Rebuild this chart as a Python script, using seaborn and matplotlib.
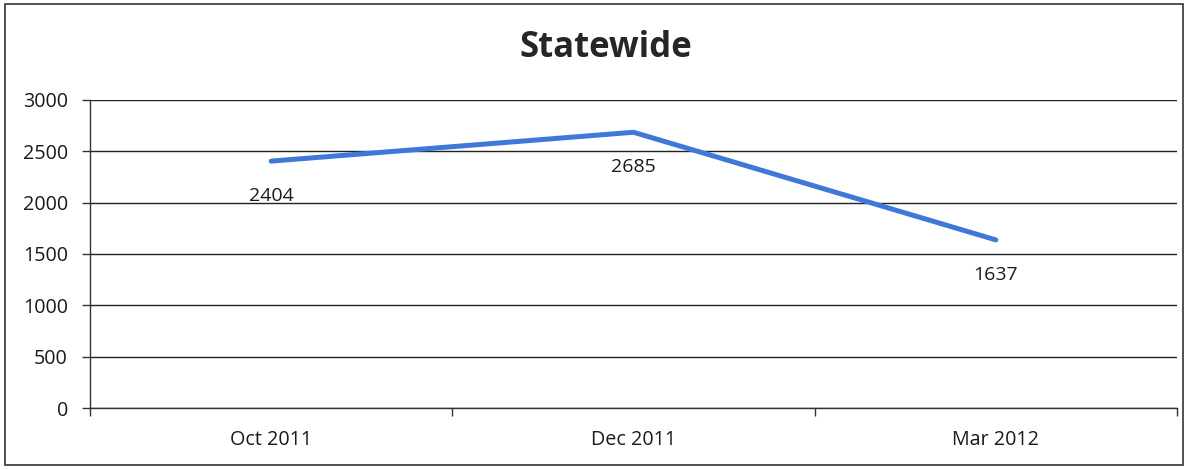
import matplotlib
matplotlib.use("Agg")
import matplotlib.pyplot as plt
import matplotlib.patches as mpatches
import pandas as pd
import seaborn as sns

months = ["Oct 2011", "Dec 2011", "Mar 2012"]
counts = [2404, 2685, 1637]
y_ticks = [0, 500, 1000, 1500, 2000, 2500, 3000]

df = pd.DataFrame({"month": months, "count": counts})

sns.set_theme(style="white")
plt.rcParams["font.family"] = ["Open Sans", "DejaVu Sans"]

fig = plt.figure(figsize=(11.88, 4.69), dpi=100)
ax = fig.add_axes([0.0758, 0.130, 0.9149, 0.657])

sns.lineplot(data=df, x="month", y="count", ax=ax, color="#3f78d8",
             linewidth=3.6, sort=False)

for i, v in enumerate(counts):
    ax.annotate(f"{v}", (i, v), xytext=(0, -25), textcoords="offset points",
                ha="center", va="center", fontsize=14, color="#1a1a1a")

ax.set_ylim(0, 3000)
ax.set_xlim(-0.5, 2.5)
ax.set_yticks(y_ticks)
ax.set_yticklabels([str(t) for t in y_ticks], fontsize=14.2, color="#1a1a1a")
ax.yaxis.grid(True, color="#222222", linewidth=1.0)
ax.set_axisbelow(True)

# category labels centred, tick marks between categories
ax.set_xticks(range(len(months)))
ax.set_xticklabels(months, fontsize=14.2, color="#1a1a1a")
ax.tick_params(axis="x", which="major", length=0, pad=16)
ax.set_xticks([-0.5, 0.5, 1.5, 2.5], minor=True)
ax.tick_params(axis="x", which="minor", length=6, width=1, color="#333333",
               bottom=True, direction="out")
ax.tick_params(axis="y", length=6, width=1, color="#333333", left=True,
               direction="out", pad=10)

ax.set_xlabel("")
ax.set_ylabel("")
for side in ["top", "right"]:
    ax.spines[side].set_visible(False)
for side in ["left", "bottom"]:
    ax.spines[side].set_color("#333333")
    ax.spines[side].set_linewidth(1.0)

fig.text(0.510, 0.898, "Statewide", ha="center", va="center",
         fontsize=25, fontweight="bold", color="#262626")

border = mpatches.Rectangle((5 / 1188, 4 / 469), 1178 / 1188, 461 / 469,
                            transform=fig.transFigure, fill=False,
                            edgecolor="#333333", linewidth=1.2)
fig.patches.append(border)

fig.savefig("out.png", dpi=100)
